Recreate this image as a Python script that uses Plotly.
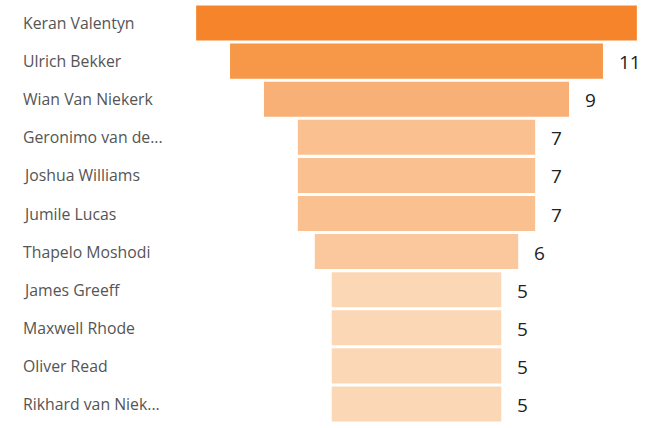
import plotly.graph_objects as go

# Player goal tallies, shown top to bottom
players = [
    "Keran Valentyn", "Ulrich Bekker", "Wian Van Niekerk", "Geronimo van de...",
    "Joshua Williams", "Jumile Lucas", "Thapelo Moshodi", "James Greeff",
    "Maxwell Rhode", "Oliver Read", "Rikhard van Niek...",
]
goals = [13, 11, 9, 7, 7, 7, 6, 5, 5, 5, 5]
# value labels (top bar's label falls outside the visible area)
value_labels = ["", "11", "9", "7", "7", "7", "6", "5", "5", "5", "5"]

shade = {
    13: "#F5842A", 11: "#F69847", 9: "#F8B077",
    7: "#FAC08F", 6: "#FBC89E", 5: "#FCD7B6",
}
bar_colors = [shade[v] for v in goals]

W, H = 653, 428
center_px = 416.5
px_per_unit = 33.9

fig = go.Figure(go.Funnel(
    y=players,
    x=goals,
    marker=dict(color=bar_colors, line=dict(width=0)),
    connector=dict(visible=False),
    textinfo="none",
    hoverinfo="y+x",
))

annotations = []
for i, (name, v, lab) in enumerate(zip(players, goals, value_labels)):
    annotations.append(dict(
        x=21 / W, xref="paper", y=name, yref="y",
        text=name, showarrow=False, xanchor="left", yanchor="middle",
        font=dict(family="Open Sans, Noto Sans, sans-serif", size=15.8, color="#555555"),
    ))
    if lab:
        annotations.append(dict(
            x=v / 2, xref="x", y=name, yref="y", yshift=-1,
            text=lab, showarrow=False, xanchor="left", yanchor="middle", xshift=14,
            font=dict(family="Open Sans, Noto Sans, sans-serif", size=19, color="#222222"),
        ))

fig.update_layout(
    width=W, height=H,
    margin=dict(l=0, r=0, t=4, b=5),
    paper_bgcolor="white", plot_bgcolor="white",
    funnelgap=0.08,
    showlegend=False,
    xaxis=dict(
        range=[(0 - center_px) / px_per_unit, (W - center_px) / px_per_unit],
        visible=False, fixedrange=True,
    ),
    yaxis=dict(showticklabels=False, showgrid=False, zeroline=False),
    annotations=annotations,
)

fig.write_html("out.html")
